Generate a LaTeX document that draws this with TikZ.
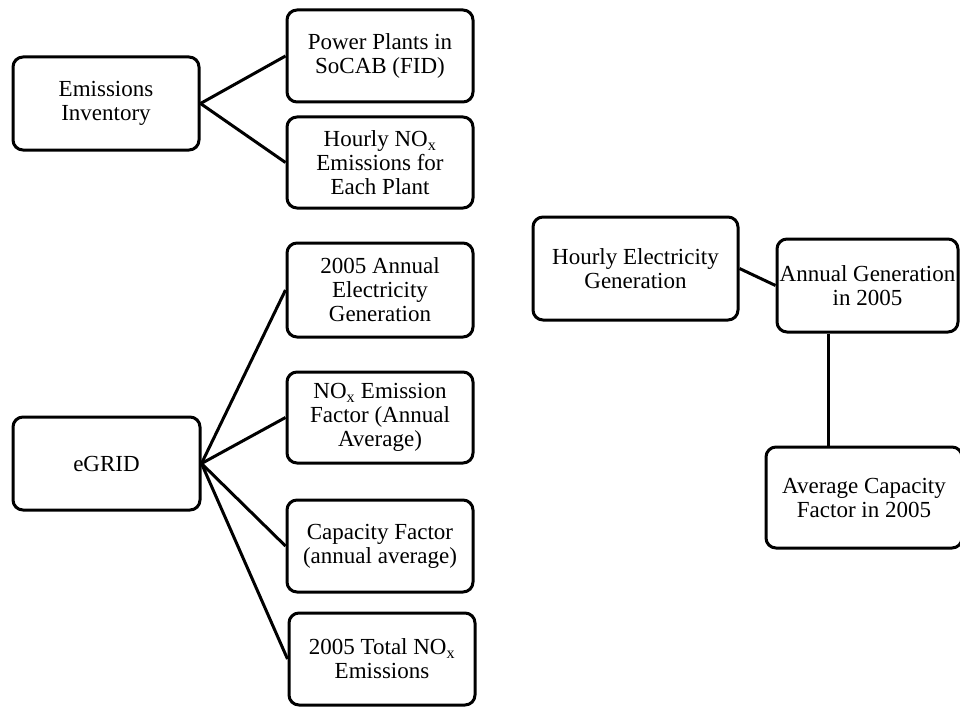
\documentclass[tikz,border=0pt]{standalone}
\usepackage{fontspec}
\setmainfont{Liberation Serif}
\begin{document}
\begin{tikzpicture}[x=1pt,y=-1pt,
  box/.style={draw,line width=3pt,rounded corners=10pt,inner sep=0pt,align=center,
    font=\fontsize{23}{24}\selectfont},
  link/.style={line width=3pt}]
\useasboundingbox (0,0) rectangle (960,706);
\node[box,minimum width=186pt,minimum height=93pt] (EI) at (106,103.5) {Emissions\\Inventory};
\node[box,minimum width=186pt,minimum height=92pt] (PP) at (380,56) {Power Plants in\\SoCAB (FID)};
\node[box,minimum width=186pt,minimum height=91pt] (HN) at (380,162.5) {Hourly NO\textsubscript{x}\\Emissions for\\Each Plant};
\node[box,minimum width=186pt,minimum height=94pt] (AE) at (380,290) {2005 Annual\\Electricity\\Generation};
\node[box,minimum width=186pt,minimum height=91pt] (NEF) at (380,417.5) {NO\textsubscript{x} Emission\\Factor (Annual\\Average)};
\node[box,minimum width=186pt,minimum height=92pt] (CF) at (380,546) {Capacity Factor\\(annual average)};
\node[box,minimum width=186pt,minimum height=92pt] (TN) at (382,659) {2005 Total NO\textsubscript{x}\\Emissions};
\node[box,minimum width=187pt,minimum height=93pt] (EG) at (106.5,463.5) {eGRID};
\node[box,minimum width=205pt,minimum height=103pt] (HE) at (635.5,268.5) {Hourly Electricity\\Generation};
\node[box,minimum width=181pt,minimum height=93pt] (AG) at (867.5,285.5) {Annual Generation\\in 2005};
\node[box,minimum width=196pt,minimum height=101pt] (AC) at (864,497.5) {Average Capacity\\Factor in 2005};
\draw[link] (EI.east) -- (PP.west);
\draw[link] (EI.east) -- (HN.west);
\draw[link] (EG.east) -- (AE.west);
\draw[link] (EG.east) -- (NEF.west);
\draw[link] (EG.east) -- (CF.west);
\draw[link] (EG.east) -- (TN.west);
\draw[link] (HE.east) -- (AG.west);
\coordinate (v) at ([xshift=-39.5pt]AG.south);
\draw[link] (v) -- (v |- AC.north);
\end{tikzpicture}
\end{document}
